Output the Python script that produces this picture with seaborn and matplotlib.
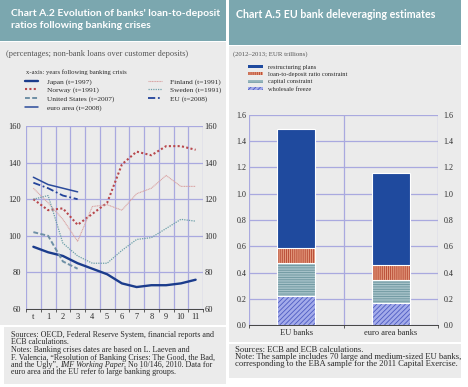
import numpy as np
import matplotlib
matplotlib.use('Agg')
import matplotlib.pyplot as plt
import seaborn as sns
from matplotlib.patches import Rectangle, Patch
from matplotlib.colors import to_rgba

# Chart A.2: loan-to-deposit ratios after banking crises (percent)
anios = ['t', '1', '2', '3', '4', '5', '6', '7', '8', '9', '10', '11']
japon = [94, 91, 89, 85, 82, 79, 74, 72, 73, 73, 74, 76]
noruega = [120, 114, 115, 106, 112, 118, 139, 146, 144, 149, 149, 147]
estados_unidos = [102, 100, 86, 82]
zona_euro = [132, 128, 126, 124]
finlandia = [126, 118, 109, 97, 116, 117, 114, 123, 126, 133, 127, 127]
suecia = [120, 122, 96, 89, 85, 85, 92, 98, 99, 104, 109, 108]
ue = [129, 126, 122, 120]

# Chart A.5: EU bank deleveraging estimates (EUR trillions)
grupos = ['EU banks', 'euro area banks']
congelacion_mayorista = [0.22, 0.165]
restriccion_capital = [0.255, 0.175]
restriccion_ltd = [0.115, 0.12]
planes_reestructuracion = [0.90, 0.70]

W, H = 468, 387
TEAL = '#7ba7af'
GRIS = '#ebebeb'
REJILLA = '#a9a9df'
TEXTO = '#2a2a2a'

sns.set_theme(style='white')
plt.rcParams['font.family'] = ['Liberation Serif', 'DejaVu Serif']
plt.rcParams['hatch.linewidth'] = 0.6

fig = plt.figure(figsize=(W / 100, H / 100), dpi=100)
fig.patch.set_facecolor('white')


def caja(x0, y0, x1, y1, color):
    fig.add_artist(Rectangle((x0 / W, 1 - y1 / H), (x1 - x0) / W, (y1 - y0) / H,
                             transform=fig.transFigure, facecolor=color,
                             edgecolor='none', zorder=-5))


def texto(x, y, s, **kw):
    kw.setdefault('color', TEXTO)
    kw.setdefault('fontsize', 5.8)
    return fig.text(x / W, 1 - y / H, s, va='center', ha='left', **kw)


def ejes(x0, y0, x1, y1):
    ax = fig.add_axes([x0 / W, 1 - y1 / H, (x1 - x0) / W, (y1 - y0) / H])
    ax.patch.set_alpha(0)
    return ax


# fondos de los paneles
caja(0, 0, 226, 41, TEAL)
caja(0, 42, 226, 325, GRIS)
caja(4, 327, 226, 384, GRIS)
caja(229, 0, 461, 45, TEAL)
caja(229, 46, 461, 342, GRIS)
caja(229, 344, 461, 378, GRIS)

fuente_titulo = dict(color='white', fontweight='bold', family=['Lato', 'DejaVu Sans'], fontsize=7.5)
texto(11, 14, "Chart A.2 Evolution of banks' loan-to-deposit", **fuente_titulo)
texto(11, 26, "ratios following banking crises", **fuente_titulo)
texto(236, 14, "Chart A.5 EU bank deleveraging estimates", fontsize=7.7,
      **{k: v for k, v in fuente_titulo.items() if k != 'fontsize'})

texto(6, 54, '(percentages; non-bank loans over customer deposits)', color='#555555', fontsize=6.0)
texto(26, 72, 'x-axis: years following banking crisis', fontsize=4.75)
texto(233, 54, '(2012\u20132013; EUR trillions)', color='#555555', fontsize=4.9)

# ---------------- Chart A.2 ----------------
ax1 = ejes(26, 126, 203, 309)
series = [
    ('Japan (t=1997)', japon, '#1b3c8c', '-', 1.7),
    ('Norway (t=1991)', noruega, '#b8474c', (0, (1, 1.1)), 1.5),
    ('United States (t=2007)', estados_unidos, '#6f90a6', (0, (2.5, 1.2)), 1.4),
    ('euro area (t=2008)', zona_euro, '#2b4b9b', '-', 1.1),
    ('Finland (t=1991)', finlandia, '#d9a3a3', (0, (1, 0.5)), 0.8),
    ('Sweden (t=1991)', suecia, '#6c9fa9', (0, (1, 0.9)), 0.9),
    ('EU (t=2008)', ue, '#23439b', (0, (4, 1.5, 1, 1.5)), 1.3),
]
for etiqueta, valores, color, estilo, grosor in series:
    sns.lineplot(x=np.arange(len(valores)), y=valores, ax=ax1, color=color,
                 linestyle=estilo, linewidth=grosor, label=etiqueta, legend=False)

ax1.set_xlim(-0.5, len(anios) - 0.5)
ax1.set_ylim(60, 160)
ax1.set_xticks(np.arange(len(anios)))
ax1.set_xticklabels(anios)
ax1.set_xticks(np.arange(len(anios) + 1) - 0.5, minor=True)
ax1.set_yticks(np.arange(60, 161, 20))
ax1.tick_params(axis='x', which='major', length=0, pad=3.0, labelsize=6.0, labelcolor=TEXTO)
ax1.tick_params(axis='x', which='minor', length=2.5, width=0.6, color='#444444', direction='out', bottom=True)
ax1.tick_params(axis='y', length=0, pad=3.5, labelsize=6.0, labelcolor=TEXTO)
ax1.grid(True, axis='y', color=REJILLA, linewidth=0.9)
ax1.grid(True, axis='x', which='minor', color=REJILLA, linewidth=0.9)
ax1.set_axisbelow(True)
for lado in ['top', 'left', 'right']:
    ax1.spines[lado].set_visible(False)
ax1.spines['bottom'].set_color('#444444')
ax1.spines['bottom'].set_linewidth(0.7)
ax1.set_xlabel('')
ax1.set_ylabel('')

ax1r = ax1.twinx()
ax1r.set_ylim(60, 160)
ax1r.set_yticks(np.arange(60, 161, 20))
ax1r.tick_params(axis='y', length=0, pad=1, labelsize=6.0, labelcolor=TEXTO)
for lado in ax1r.spines:
    ax1r.spines[lado].set_visible(False)
ax1r.grid(False)

manijas, etiquetas = ax1.get_legend_handles_labels()
fig.legend(manijas, etiquetas, ncol=2, loc='upper left', bbox_to_anchor=(25 / W, 1 - 78 / H),
           frameon=False, fontsize=5.3, handlelength=1.8, handletextpad=1.2,
           columnspacing=4.6, labelspacing=0.3, borderpad=0, borderaxespad=0,
           labelcolor=TEXTO)

# ---------------- Chart A.5 ----------------
ax2 = ejes(249, 115, 438, 325)
capas = [  # de abajo hacia arriba
    ('wholesale freeze', congelacion_mayorista, '#a3abea', '///////', '#4d5bc2'),
    ('capital constraint', restriccion_capital, '#a5c1c8', '-------', '#6a949d'),
    ('loan-to-deposit ratio constraint', restriccion_ltd, '#e39a7e', '||||||||', '#b4432d'),
    ('restructuring plans', planes_reestructuracion, '#1f4a9e', None, None),
]
acumulado = np.cumsum([c[1] for c in capas], axis=0)


def color_trama(p, c):
    if hasattr(p, 'set_hatchcolor'):
        p.set_hatchcolor(c)
    else:
        p._hatch_color = to_rgba(c)


for i in range(len(capas) - 1, -1, -1):
    nombre, valores, color, trama, color_t = capas[i]
    n0 = len(ax2.patches)
    sns.barplot(x=grupos, y=acumulado[i], color=color, width=0.4, saturation=1,
                errorbar=None, edgecolor='white', linewidth=0.8, ax=ax2)
    if trama:
        for p in ax2.patches[n0:]:
            p.set_hatch(trama)
            color_trama(p, color_t)

ax2.set_xlim(-0.5, 1.5)
ax2.set_ylim(0, 1.6)
ax2.set_yticks(np.arange(0, 1.61, 0.2))
ax2.set_yticklabels([f'{v:.1f}' for v in np.arange(0, 1.61, 0.2)])
ax2.set_xticks([-0.5, 0.5, 1.5], minor=True)
ax2.tick_params(axis='x', which='major', length=0, pad=3.0, labelsize=6.0, labelcolor=TEXTO)
ax2.tick_params(axis='x', which='minor', length=2.5, width=0.6, color='#444444', direction='out', bottom=True)
ax2.tick_params(axis='y', length=0, pad=2.0, labelsize=5.8, labelcolor=TEXTO)
ax2.grid(True, axis='y', color=REJILLA, linewidth=0.9)
ax2.grid(True, axis='x', which='minor', color=REJILLA, linewidth=0.9)
ax2.set_axisbelow(True)
for lado in ['top', 'left', 'right']:
    ax2.spines[lado].set_visible(False)
ax2.spines['bottom'].set_color('#444444')
ax2.spines['bottom'].set_linewidth(0.7)
ax2.set_xlabel('')
ax2.set_ylabel('')

ax2r = ax2.twinx()
ax2r.set_ylim(0, 1.6)
ax2r.set_yticks(np.arange(0, 1.61, 0.2))
ax2r.set_yticklabels([f'{v:.1f}' for v in np.arange(0, 1.61, 0.2)])
ax2r.tick_params(axis='y', length=0, pad=4, labelsize=5.8, labelcolor=TEXTO)
for lado in ax2r.spines:
    ax2r.spines[lado].set_visible(False)
ax2r.grid(False)

parches = []
for nombre, valores, color, trama, color_t in capas[::-1]:
    parches.append(Patch(facecolor=color, hatch=trama, edgecolor=color_t or color,
                         linewidth=0, label=nombre))
fig.legend(handles=parches, loc='upper left', bbox_to_anchor=(248 / W, 1 - 65 / H),
           frameon=False, fontsize=4.6, handlelength=2.3, handleheight=0.35,
           handletextpad=0.8, labelspacing=0.35, borderpad=0, borderaxespad=0,
           labelcolor=TEXTO)

# ---------------- notas ----------------
renderer = fig.canvas.get_renderer()
notas_izq = [
    [('Sources: OECD, Federal Reserve System, financial reports and', 'normal')],
    [('ECB calculations.', 'normal')],
    [('Notes: Banking crises dates are based on L. Laeven and', 'normal')],
    [('F. Valencia, \u201cResolution of Banking Crises: The Good, the Bad,', 'normal')],
    [('and the Ugly\u201d, ', 'normal'), ('IMF Working Paper', 'italic'),
     (', No 10/146, 2010. Data for', 'normal')],
    [('euro area and the EU refer to large banking groups.', 'normal')],
]
for k, trozos in enumerate(notas_izq):
    x = 11
    for trozo, estilo in trozos:
        t = texto(x, 335 + 7.5 * k, trozo, fontsize=5.8, style=estilo)
        x += t.get_window_extent(renderer).width

notas_der = [
    'Sources: ECB and ECB calculations.',
    'Note: The sample includes 70 large and medium-sized EU banks,',
    'corresponding to the EBA sample for the 2011 Capital Exercise.',
]
for k, linea in enumerate(notas_der):
    texto(235, 350 + 7.2 * k, linea, fontsize=6.2)

fig.savefig('out.png', dpi=100)
